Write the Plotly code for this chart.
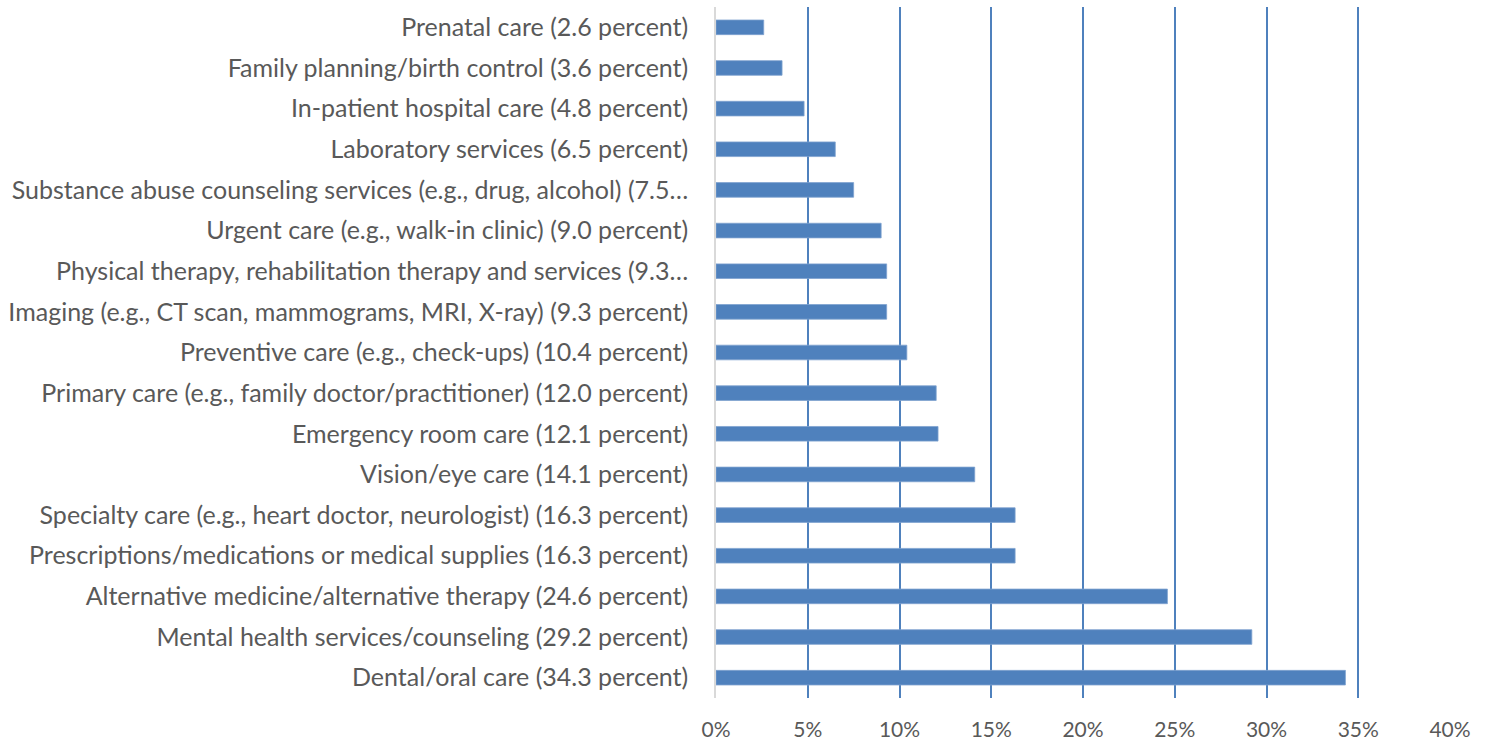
import plotly.graph_objects as go

# Health service categories, listed top to bottom as drawn
categories = [
    "Prenatal care (2.6 percent)",
    "Family planning/birth control (3.6 percent)",
    "In-patient hospital care (4.8 percent)",
    "Laboratory services (6.5 percent)",
    "Substance abuse counseling services (e.g., drug, alcohol) (7.5…",
    "Urgent care (e.g., walk-in clinic) (9.0 percent)",
    "Physical therapy, rehabilitation therapy and services (9.3…",
    "Imaging (e.g., CT scan, mammograms, MRI, X-ray) (9.3 percent)",
    "Preventive care (e.g., check-ups) (10.4 percent)",
    "Primary care (e.g., family doctor/practitioner) (12.0 percent)",
    "Emergency room care (12.1 percent)",
    "Vision/eye care (14.1 percent)",
    "Specialty care (e.g., heart doctor, neurologist) (16.3 percent)",
    "Prescriptions/medications or medical supplies (16.3 percent)",
    "Alternative medicine/alternative therapy (24.6 percent)",
    "Mental health services/counseling (29.2 percent)",
    "Dental/oral care (34.3 percent)",
]
percent = [2.6, 3.6, 4.8, 6.5, 7.5, 9.0, 9.3, 9.3, 10.4, 12.0, 12.1, 14.1,
           16.3, 16.3, 24.6, 29.2, 34.3]
tick_values = [0, 0.05, 0.10, 0.15, 0.20, 0.25, 0.30, 0.35, 0.40]

BAR = "#4F81BD"
TEXT = "#595959"
FONT = "Lato, Carlito, sans-serif"

fig = go.Figure(
    go.Bar(
        x=[p / 100 for p in percent],
        y=categories,
        orientation="h",
        marker=dict(color=BAR, line=dict(color="#7FA2CF", width=0.8)),
        width=0.36,
    )
)

fig.update_layout(
    width=1485,
    height=746,
    margin=dict(l=716, r=35, t=7, b=48, autoexpand=False),
    paper_bgcolor="white",
    plot_bgcolor="white",
    showlegend=False,
    font=dict(family=FONT, color=TEXT),
    xaxis=dict(
        range=[0, 0.40],
        tickvals=tick_values,
        tickformat=".0%",
        tickfont=dict(size=21, color=TEXT, family=FONT),
        showgrid=True,
        gridcolor=BAR,
        gridwidth=1.5,
        zeroline=False,
        showline=False,
        ticks="",
        ticklabelstandoff=17,
        fixedrange=True,
    ),
    yaxis=dict(
        autorange="reversed",
        tickfont=dict(size=25, color=TEXT, family=FONT),
        showgrid=False,
        showline=True,
        linecolor="#D9D9D9",
        linewidth=1.5,
        ticks="",
        ticklabelstandoff=21,
        automargin=False,
        fixedrange=True,
    ),
)

fig.write_html("out.html")
